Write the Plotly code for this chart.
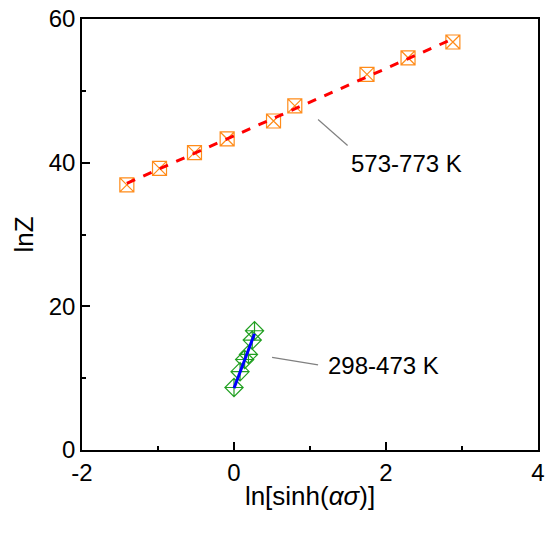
import numpy as np
import plotly.graph_objects as go

# High-temperature series (573-773 K)
x_high = [-1.41, -0.98, -0.52, -0.09, 0.52, 0.80, 1.75, 2.29, 2.88]
y_high = [36.9, 39.2, 41.4, 43.3, 45.8, 47.9, 52.3, 54.6, 56.8]

# Low-temperature series (298-473 K)
x_low = [0.0, 0.08, 0.14, 0.19, 0.24, 0.27]
y_low = [8.7, 10.9, 12.6, 13.3, 15.3, 16.6]

labels = ["573-773 K", "298-473 K"]
x_ticks = [-2, 0, 2, 4]
x_ticktext = ["-2", "0", "2", "4"]
y_ticks = [0, 20, 40, 60]

fit_h = np.polyfit(x_high, y_high, 1)
fit_l = np.polyfit(x_low, y_low, 1)
xh = np.array([min(x_high), max(x_high)])
xl = np.array([min(x_low), max(x_low)])

fig = go.Figure()
fig.add_trace(go.Scatter(x=x_high, y=y_high, mode="markers",
                         marker=dict(symbol="square-x-open", size=14, color="#FF8C1A",
                                     line=dict(width=1.2, color="#FF8C1A")),
                         showlegend=False))
fig.add_trace(go.Scatter(x=xh, y=np.polyval(fit_h, xh), mode="lines",
                         line=dict(color="#FF0000", width=3, dash="dash"), showlegend=False))
fig.add_trace(go.Scatter(x=x_low, y=y_low, mode="markers",
                         marker=dict(symbol="diamond-cross-open", size=14, color="#22A022",
                                     line=dict(width=1.2, color="#22A022")),
                         showlegend=False))
fig.add_trace(go.Scatter(x=xl, y=np.polyval(fit_l, xl), mode="lines",
                         line=dict(color="#0000FF", width=3), showlegend=False))

# leader lines
fig.add_shape(type="line", x0=1.106, y0=46.0, x1=1.495, y1=42.4,
              line=dict(color="#808080", width=1.2))
fig.add_shape(type="line", x0=0.501, y0=12.9, x1=1.106, y1=11.85,
              line=dict(color="#808080", width=1.2))
fig.add_annotation(x=1.51, y=39.9, text=labels[0], showarrow=False, xanchor="left",
                   yanchor="middle", font=dict(size=24, color="black"))
fig.add_annotation(x=1.214, y=11.75, text=labels[1], showarrow=False, xanchor="left",
                   yanchor="middle", font=dict(size=24, color="black"))

axis_common = dict(showline=True, linecolor="black", linewidth=1.5, mirror=True,
                   ticks="inside", ticklen=8, tickwidth=1.5, tickcolor="black",
                   showgrid=False, zeroline=False,
                   tickfont=dict(size=24, color="black"))
fig.update_xaxes(range=[-2, 4], tickvals=x_ticks, ticktext=x_ticktext,
                 minor=dict(tickvals=[-1, 1, 3], ticks="inside", ticklen=4, tickwidth=1.5, tickcolor="black"),
                 title=dict(text="ln[sinh(<i>ασ</i>)]", font=dict(size=26, color="black"), standoff=2),
                 **axis_common)
fig.update_yaxes(range=[0, 60], tickvals=y_ticks,
                 minor=dict(tickvals=[10, 30, 50], ticks="inside", ticklen=4, tickwidth=1.5, tickcolor="black"),
                 title=dict(text="lnZ", font=dict(size=26, color="black"), standoff=8),
                 **axis_common)
fig.update_layout(width=550, height=534, margin=dict(l=82, r=5, t=17, b=84),
                  plot_bgcolor="white", paper_bgcolor="white",
                  font=dict(family="Liberation Sans, Arial, sans-serif", color="black"))
fig.write_html("out.html")
